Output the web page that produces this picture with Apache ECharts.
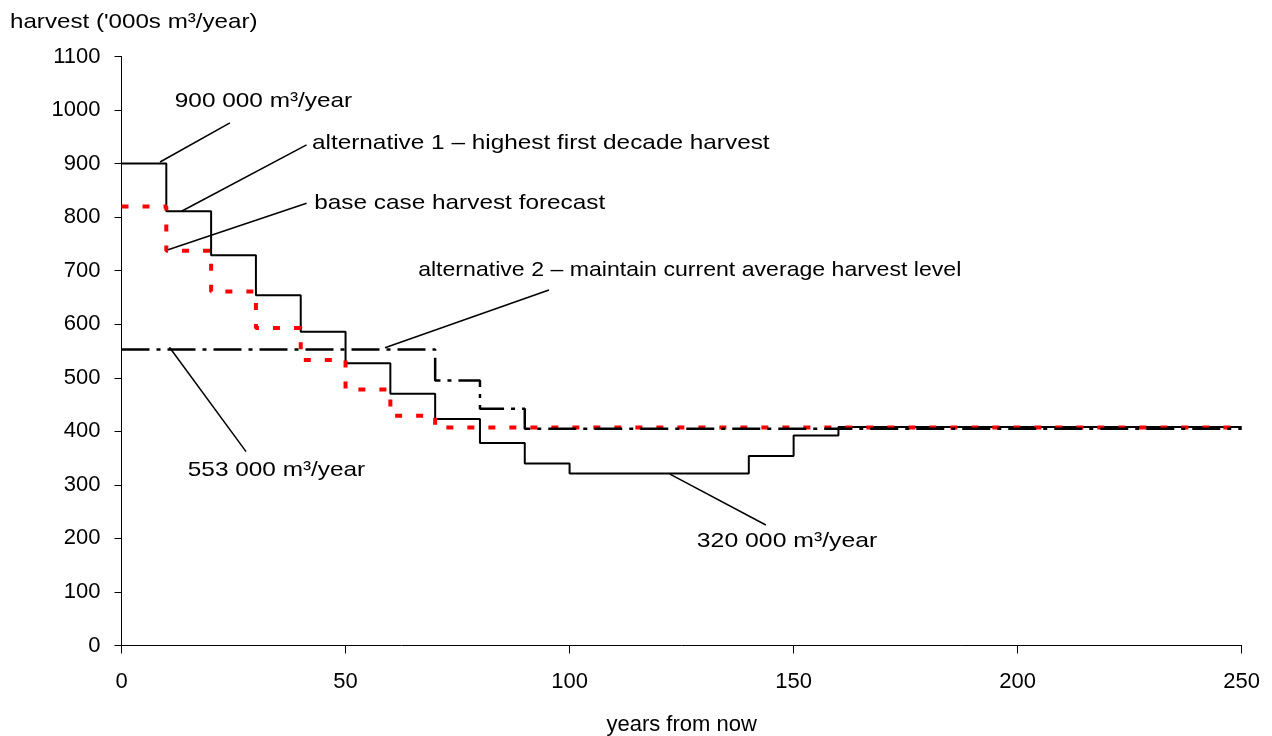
<!DOCTYPE html>
<html>
<head>
<meta charset="utf-8">
<script src="https://cdn.jsdelivr.net/npm/echarts@6/dist/echarts.min.js"></script>
<style>
html,body{margin:0;padding:0;background:#fff;}
#chart{width:1272px;height:736px;}
</style>
</head>
<body>
<div id="chart"></div>
<script>
// ---- data ----
const xTicks = [0, 50, 100, 150, 200, 250];
const yTicks = [0, 100, 200, 300, 400, 500, 600, 700, 800, 900, 1000, 1100];

// alternative 1 – highest first decade harvest (step starts)
const alt1Years = [0, 10, 20, 30, 40, 50, 60, 70, 80, 90, 100, 140, 150, 160, 250];
const alt1Harvest = [900, 811, 729, 654, 586, 527, 470, 423, 378, 340, 321, 354, 392, 408, 408];

// base case harvest forecast
const baseYears = [0, 10, 20, 30, 40, 50, 60, 70, 250];
const baseHarvest = [820, 737, 661, 593, 533, 478, 429, 407, 407];

// alternative 2 – maintain current average harvest level
const alt2Years = [0, 70, 80, 90, 250];
const alt2Harvest = [553, 495, 442, 405, 405];

// annotations (data coordinates)
const noteTexts = [
  '900 000 m³/year',
  'alternative 1 – highest first decade harvest',
  'base case harvest forecast',
  'alternative 2 – maintain current average harvest level',
  '553 000 m³/year',
  '320 000 m³/year'
];
const noteAnchors = [
  [11.9, 1016],
  [42.5, 938],
  [43.0, 826],
  [66.2, 701],
  [14.8, 328],
  [128.4, 195]
];
const leaderLines = [
  [[8.6, 903], [24.2, 976]],
  [[13.4, 811], [41.3, 935]],
  [[10.4, 739], [41.3, 826]],
  [[58.8, 556], [95.4, 664]],
  [[10.7, 557], [27.8, 362]],
  [[122.4, 320], [143.8, 225]]
];

const yAxisTitle = "harvest ('000s m³/year)";
const xAxisTitle = 'years from now';

// ---- build ----
const FONT = 'Liberation Sans';
const FS = 22;
const NOTE_FS = 21;
const noteStretch = [1.16, 1.16, 1.16, 1.10, 1.16, 1.18];
const zip = (xs, ys) => xs.map((x, i) => [x, ys[i]]);

const chart = echarts.init(document.getElementById('chart'), null, {renderer: 'canvas'});
chart.setOption({
  animation: false,
  backgroundColor: '#ffffff',
  textStyle: {fontFamily: FONT},
  grid: {left: 121.5, right: 30.3, top: 56.5, bottom: 90.5, containLabel: false, outerBoundsMode: 'none'},
  xAxis: {
    type: 'value',
    min: xTicks[0], max: xTicks[xTicks.length - 1], interval: xTicks[1] - xTicks[0],
    name: xAxisTitle, nameLocation: 'middle', nameGap: 68,
    nameTextStyle: {fontFamily: FONT, fontSize: FS, color: '#000'},
    axisLine: {show: true, onZero: false, lineStyle: {color: '#000', width: 1}},
    axisTick: {show: true, inside: false, length: 8, lineStyle: {color: '#000', width: 1}},
    axisLabel: {fontFamily: FONT, fontSize: FS, color: '#000', margin: 25,
      formatter: v => String(v)},
    splitLine: {show: false}
  },
  yAxis: {
    type: 'value',
    min: yTicks[0], max: yTicks[yTicks.length - 1], interval: yTicks[1] - yTicks[0],
    axisLine: {show: true, lineStyle: {color: '#000', width: 1}},
    axisTick: {show: true, inside: false, length: 7, lineStyle: {color: '#000', width: 1}},
    axisLabel: {fontFamily: FONT, fontSize: FS, color: '#000', margin: 21,
      formatter: v => String(v)},
    splitLine: {show: false}
  },
  series: [
    {
      name: 'alternative 1', type: 'line', step: 'end', symbol: 'none', silent: true,
      data: zip(alt1Years, alt1Harvest),
      lineStyle: {color: '#000', width: 2}, z: 3
    },
    {
      name: 'base case', type: 'line', step: 'end', symbol: 'none', silent: true,
      data: zip(baseYears, baseHarvest),
      lineStyle: {color: '#ff0000', width: 4, type: [7, 14], cap: 'butt'}, z: 4
    },
    {
      name: 'alternative 2', type: 'line', step: 'end', symbol: 'none', silent: true,
      data: zip(alt2Years, alt2Harvest),
      lineStyle: {color: '#000', width: 2.5, type: [28, 7, 4, 7], cap: 'butt'}, z: 5
    },
    {
      name: 'leaders', type: 'lines', coordinateSystem: 'cartesian2d', silent: true,
      data: leaderLines.map(c => ({coords: c})),
      lineStyle: {color: '#000', width: 1.5, opacity: 1, curveness: 0},
      symbol: 'none', z: 6
    }
  ]
});

// annotation texts placed at data anchors through the chart's own scales
const noteGraphics = noteAnchors.map((p, i) => {
  const px = chart.convertToPixel({xAxisIndex: 0, yAxisIndex: 0}, p);
  return {
    type: 'text', x: px[0], y: px[1], scaleX: noteStretch[i], scaleY: 1, silent: true, z: 10,
    style: {text: noteTexts[i], x: 0, y: 0, fill: '#000', font: NOTE_FS + 'px "' + FONT + '"',
      align: 'left', verticalAlign: 'middle'}
  };
});
noteGraphics.push({
  type: 'text', x: 10, y: 22, scaleX: 1.15, scaleY: 1, silent: true, z: 10,
  style: {text: yAxisTitle, x: 0, y: 0, fill: '#000', font: NOTE_FS + 'px "' + FONT + '"',
    align: 'left', verticalAlign: 'middle'}
});
chart.setOption({graphic: noteGraphics});
</script>
</body>
</html>
